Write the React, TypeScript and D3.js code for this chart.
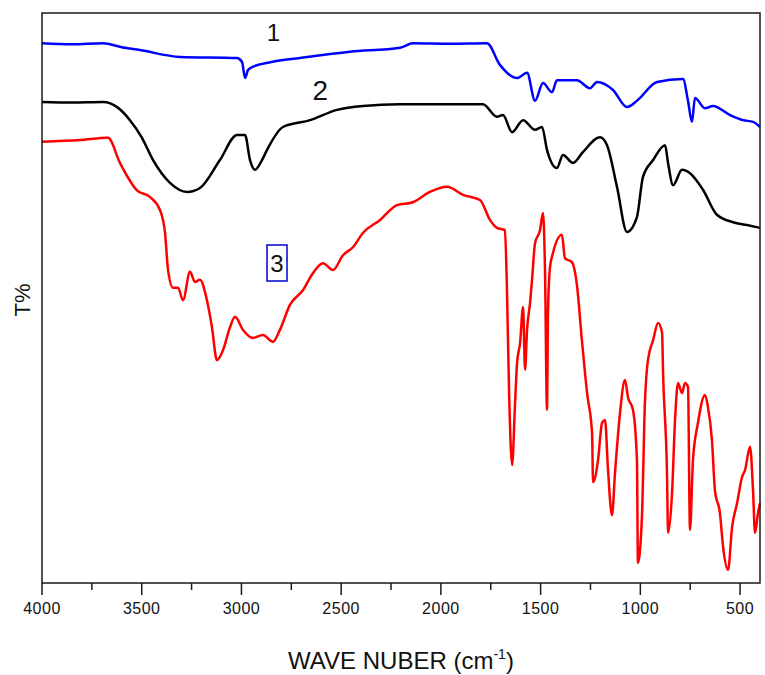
import React from "react";
import * as d3 from "d3";

// wavenumber (cm-1) and transmittance (arbitrary %, offset) for each spectrum
const wn1 = [4000, 3850, 3694, 3600, 3509, 3308, 3022, 2997, 2982, 2967, 2947, 2850, 2706, 2456, 2205, 2140, 1950, 1769, 1704, 1618, 1568, 1528, 1488, 1443, 1418, 1318, 1252, 1217, 1137, 1067, 1017, 916, 786, 761, 741, 726, 676, 636, 550, 485, 435, 400];
const t1 = [94.7, 94.5, 94.7, 94.0, 93.5, 92.3, 92.1, 91.4, 88.6, 90.0, 90.5, 91.4, 92.1, 93.2, 93.9, 94.7, 94.6, 94.7, 90.9, 88.6, 89.5, 84.6, 87.7, 86.1, 88.2, 88.2, 86.8, 87.9, 86.5, 83.5, 84.6, 87.9, 88.4, 84.6, 80.9, 85.1, 83.3, 83.7, 82.1, 81.2, 80.9, 80.0];

const wn2 = [4000, 3850, 3694, 3620, 3559, 3500, 3443, 3358, 3273, 3208, 3108, 3022, 2982, 2957, 2932, 2897, 2867, 2792, 2656, 2521, 2391, 2205, 1789, 1719, 1689, 1643, 1588, 1528, 1493, 1468, 1418, 1388, 1338, 1288, 1202, 1167, 1117, 1067, 1017, 987, 936, 876, 861, 836, 791, 751, 686, 616, 535, 465, 400];
const t2 = [84.4, 84.3, 84.4, 83.4, 81.2, 78.2, 74.2, 70.2, 68.6, 69.3, 74.2, 78.6, 78.6, 74.2, 72.5, 74.2, 76.3, 80.0, 81.2, 83.0, 83.7, 84.0, 84.0, 81.8, 82.1, 79.1, 81.2, 79.5, 80.0, 76.0, 72.8, 75.1, 73.7, 75.6, 78.2, 76.8, 69.5, 61.6, 64.2, 71.2, 74.2, 76.8, 73.7, 69.8, 72.5, 71.9, 69.0, 64.6, 63.3, 62.8, 62.3];

const wn3 = [4000, 3809, 3669, 3609, 3524, 3458, 3408, 3383, 3368, 3343, 3318, 3293, 3258, 3233, 3208, 3173, 3148, 3123, 3092, 3057, 3032, 2992, 2942, 2892, 2842, 2807, 2757, 2691, 2641, 2591, 2541, 2491, 2441, 2391, 2305, 2220, 2140, 2055, 1969, 1889, 1804, 1754, 1719, 1679, 1669, 1658, 1643, 1628, 1618, 1603, 1588, 1578, 1568, 1553, 1543, 1528, 1503, 1488, 1478, 1468, 1463, 1453, 1438, 1393, 1378, 1343, 1318, 1293, 1267, 1242, 1237, 1212, 1192, 1177, 1162, 1142, 1127, 1102, 1077, 1062, 1037, 1017, 1012, 992, 977, 962, 936, 911, 891, 886, 866, 861, 841, 826, 811, 791, 776, 761, 751, 736, 711, 676, 661, 641, 626, 601, 585, 560, 540, 515, 490, 475, 450, 435, 425, 410, 400];
const t3 = [77.4, 77.7, 78.1, 73.7, 68.9, 67.7, 65.4, 61.4, 54.9, 51.8, 51.8, 49.6, 54.6, 52.8, 53.2, 49.6, 44.9, 39.1, 40.9, 44.9, 46.7, 44.4, 43.0, 43.5, 42.3, 44.4, 48.8, 51.4, 54.4, 56.1, 54.9, 57.5, 58.9, 61.4, 63.7, 66.3, 66.8, 68.6, 69.5, 68.1, 67.2, 63.7, 62.3, 61.9, 51.9, 33.3, 20.7, 31.6, 38.6, 42.1, 48.4, 37.4, 44.4, 49.1, 53.2, 59.6, 61.9, 64.9, 54.9, 30.4, 47.4, 55.4, 57.9, 61.1, 57.0, 56.3, 52.3, 42.6, 33.3, 26.3, 17.7, 21.6, 28.1, 28.6, 19.8, 11.9, 19.3, 29.8, 35.6, 32.6, 30.4, 21.6, 3.5, 11.6, 31.6, 39.1, 42.6, 45.6, 43.9, 36.8, 18.6, 8.8, 15.8, 28.6, 35.1, 33.3, 35.1, 34.4, 9.3, 21.6, 28.1, 33.0, 30.9, 25.1, 16.3, 12.3, 6.3, 2.3, 9.8, 14.0, 18.6, 19.8, 23.9, 16.3, 8.8, 12.3, 14.0];

const majorTicks = [4000, 3500, 3000, 2500, 2000, 1500, 1000, 500];
const minorTicks = [3750, 3250, 2750, 2250, 1750, 1250, 750];

const seriesLabels = ["1", "2", "3"];

export default function App() {
  const left = 42, right = 760, top = 13, bottom = 583;
  const x = d3.scaleLinear().domain([4000, 400]).range([left, right]);
  const y = d3.scaleLinear().domain([0, 100]).range([bottom, top]);
  const line = d3
    .line<[number, number]>()
    .x((d) => x(d[0]))
    .y((d) => y(d[1]))
    .curve(d3.curveMonotoneX);
  const mk = (w: number[], t: number[]) => w.map((v, i) => [v, t[i]] as [number, number]);
  const series = [
    { d: mk(wn1, t1), color: "#0000ff" },
    { d: mk(wn2, t2), color: "#000000" },
    { d: mk(wn3, t3), color: "#ff0000" },
  ];
  const font = "Arial, 'Liberation Sans', sans-serif";
  return (
    <svg width={765} height={675} style={{ position: "absolute", left: 0, top: 0, background: "#fff" }}>
      <rect x={0} y={0} width={765} height={675} fill="#fff" />
      {series.map((s, i) => (
        <path key={i} d={line(s.d) || ""} fill="none" stroke={s.color} strokeWidth={2.5} strokeLinejoin="round" />
      ))}
      <rect x={left} y={top} width={right - left} height={bottom - top} fill="none" stroke="#1a1a1a" strokeWidth={1.5} />
      {majorTicks.map((t) => (
        <g key={t}>
          <line x1={x(t)} x2={x(t)} y1={bottom} y2={bottom + 12} stroke="#1a1a1a" strokeWidth={1.5} />
          <text x={x(t)} y={bottom + 31} textAnchor="middle" fontFamily={font} fontSize={16} letterSpacing={0.5} fill="#111">{t}</text>
        </g>
      ))}
      {minorTicks.map((t) => (
        <line key={t} x1={x(t)} x2={x(t)} y1={bottom} y2={bottom + 7} stroke="#1a1a1a" strokeWidth={1.5} />
      ))}
      <text x={401} y={669} textAnchor="middle" fontFamily={font} fontSize={24} fill="#111">
        WAVE NUBER (cm<tspan fontSize={14} dy={-10}>-1</tspan><tspan dy={10}>)</tspan>
      </text>
      <text transform="translate(30,300) rotate(-90)" textAnchor="middle" fontFamily={font} fontSize={22} fill="#111">T%</text>
      <text x={x(2840)} y={41} textAnchor="middle" fontFamily={font} fontSize={24} fill="#111">{seriesLabels[0]}</text>
      <text x={x(2605)} y={100} textAnchor="middle" fontFamily={font} fontSize={28} fill="#111">{seriesLabels[1]}</text>
      <rect x={267} y={245} width={20} height={36} fill="none" stroke="#0000cc" strokeWidth={1.5} />
      <text x={277} y={272} textAnchor="middle" fontFamily={font} fontSize={24} fill="#111">{seriesLabels[2]}</text>
    </svg>
  );
}
